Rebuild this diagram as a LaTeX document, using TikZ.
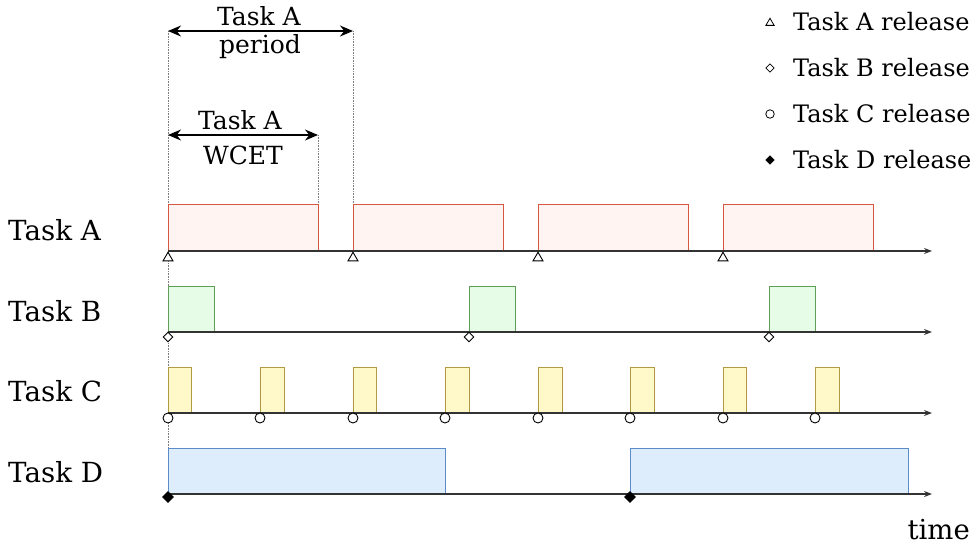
\documentclass[tikz,border=0pt]{standalone}
\usepackage{fontspec}
\setmainfont{DejaVu Serif}
\usetikzlibrary{arrows.meta,shapes.geometric}

\definecolor{drawA}{HTML}{D6573F}
\definecolor{fillA}{HTML}{FFF4F1}
\definecolor{drawB}{HTML}{5E9E56}
\definecolor{fillB}{HTML}{E7FCE7}
\definecolor{drawC}{HTML}{B29A45}
\definecolor{fillC}{HTML}{FFF8C8}
\definecolor{drawD}{HTML}{5C8CC8}
\definecolor{fillD}{HTML}{DEEDFC}
\definecolor{axisgray}{HTML}{333333}

\tikzset{
  axis/.style={line width=1.2pt, draw=axisgray, -{Stealth[length=8pt,width=6pt]}},
  guide/.style={line width=0.6pt, draw=gray, densely dotted},
  dimarrow/.style={line width=1.1pt, {Stealth[length=13pt,width=11pt]}-{Stealth[length=13pt,width=11pt]}},
  boxA/.style={line width=1pt, draw=drawA, fill=fillA},
  boxB/.style={line width=1pt, draw=drawB, fill=fillB},
  boxC/.style={line width=1pt, draw=drawC, fill=fillC},
  boxD/.style={line width=1pt, draw=drawD, fill=fillD},
  relA/.style={regular polygon, regular polygon sides=3, draw, line width=0.9pt, fill=white, inner sep=0pt, minimum size=11.5pt},
  relB/.style={diamond, draw, line width=0.9pt, fill=white, inner sep=0pt, minimum size=10pt},
  relC/.style={circle, draw, line width=0.9pt, fill=white, inner sep=0pt, minimum size=10pt},
  relD/.style={diamond, draw, line width=0.9pt, fill=black, inner sep=0pt, minimum size=11pt},
  tasklabel/.style={font=\fontsize{27.7}{32}\selectfont, anchor=west, inner sep=0pt},
  dimlabel/.style={font=\fontsize{25}{29}\selectfont, inner sep=0pt},
  legendtext/.style={font=\fontsize{24}{28}\selectfont, anchor=west, inner sep=0pt}
}

\begin{document}
\begin{tikzpicture}[x=1pt,y=-1pt]
\useasboundingbox (0,0) rectangle (977,547);
% dimension points
\coordinate (perL) at (168,31);
\coordinate (perR) at (353,31);
\coordinate (wcetL) at (168,135);
\coordinate (wcetR) at (318,135);
% guide lines
\draw[guide] (perL) -- (168,448);
\draw[guide] (perR) -- (353,204);
\draw[guide] (wcetR) -- (318,204);
% task A
\draw[boxA] (168,204) rectangle (318,251);
\draw[boxA] (353,204) rectangle (503,251);
\draw[boxA] (538,204) rectangle (688,251);
\draw[boxA] (723,204) rectangle (873,251);
\draw[axis] (168,251) -- (932,251);
% task B
\draw[boxB] (168,286) rectangle (214,332);
\draw[boxB] (469,286) rectangle (515,332);
\draw[boxB] (769,286) rectangle (815,332);
\draw[axis] (168,332) -- (932,332);
% task C
\draw[boxC] (168,367) rectangle (191,413);
\draw[boxC] (260,367) rectangle (284,413);
\draw[boxC] (353,367) rectangle (376,413);
\draw[boxC] (445,367) rectangle (469,413);
\draw[boxC] (538,367) rectangle (562,413);
\draw[boxC] (630,367) rectangle (654,413);
\draw[boxC] (723,367) rectangle (746,413);
\draw[boxC] (815,367) rectangle (839,413);
\draw[axis] (168,413) -- (932,413);
% task D
\draw[boxD] (168,448) rectangle (445,494);
\draw[boxD] (630,448) rectangle (908,494);
\draw[axis] (168,494) -- (932,494);
% releases
\node[relA] (relA1) at (168,258) {};
\node[relA] (relA2) at (353,258) {};
\node[relA] (relA3) at (538,258) {};
\node[relA] (relA4) at (723,258) {};
\node[relB] (relB1) at (168,337) {};
\node[relB] (relB2) at (469,337) {};
\node[relB] (relB3) at (769,337) {};
\node[relC] (relC1) at (168,418) {};
\node[relC] (relC2) at (260,418) {};
\node[relC] (relC3) at (353,418) {};
\node[relC] (relC4) at (445,418) {};
\node[relC] (relC5) at (538,418) {};
\node[relC] (relC6) at (630,418) {};
\node[relC] (relC7) at (723,418) {};
\node[relC] (relC8) at (815,418) {};
\node[relD] (relD1) at (168,497) {};
\node[relD] (relD2) at (630,497) {};
% dimensions
\draw[dimarrow] (perL) -- (perR);
\node[dimlabel] (perTop) at (259,16) {Task A};
\node[dimlabel] (perBot) at (260,47) {period};
\draw[dimarrow] (wcetL) -- (wcetR);
\node[dimlabel] (wcetTop) at (240,120) {Task A};
\node[dimlabel] (wcetBot) at (243,155) {WCET};
% task names
\node[tasklabel] (nameA) at (8,230) {Task A};
\node[tasklabel] (nameB) at (8,311) {Task B};
\node[tasklabel] (nameC) at (8,391) {Task C};
\node[tasklabel] (nameD) at (8,472) {Task D};
% legend
\node[relA, minimum size=9.5pt, line width=0.8pt] (legA) at (770,23) {};
\node[relB, minimum size=8.5pt, line width=0.8pt] (legB) at (770,68) {};
\node[relC, minimum size=8.5pt, line width=0.8pt] (legC) at (770,114) {};
\node[relD, minimum size=8.5pt, line width=0.8pt] (legD) at (770,160) {};
\node[legendtext] (legAtext) at (793,22) {Task A release};
\node[legendtext] (legBtext) at (793,68) {Task B release};
\node[legendtext] (legCtext) at (793,114) {Task C release};
\node[legendtext] (legDtext) at (793,160) {Task D release};
\node[font=\fontsize{27.5}{31}\selectfont, anchor=east, inner sep=0pt] (timelabel) at (970,530) {time};
\end{tikzpicture}
\end{document}
